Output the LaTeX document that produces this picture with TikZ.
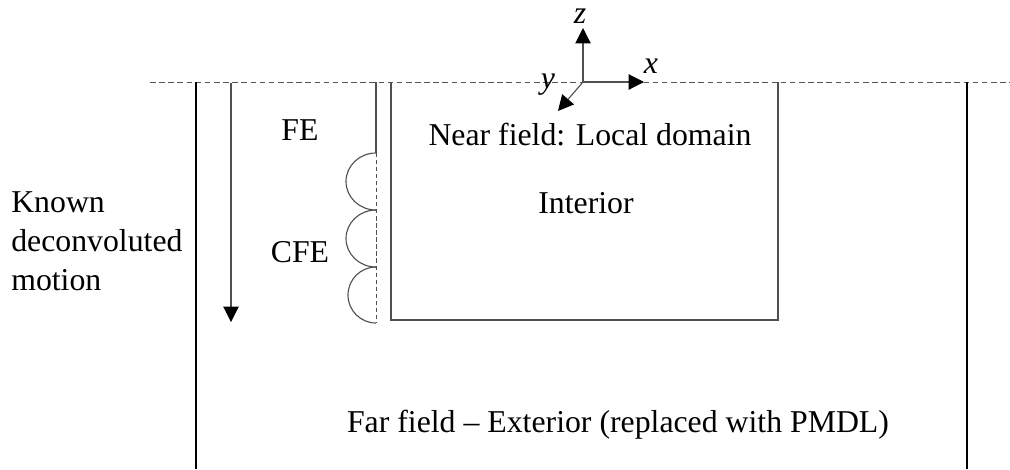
\documentclass[tikz,border=0pt]{standalone}
\usepackage{fontspec}
\setmainfont{Liberation Serif}
\usepackage{tikz}
\usetikzlibrary{arrows.meta}
\definecolor{linegray}{HTML}{505050}
\definecolor{dashgray}{HTML}{555555}

\begin{document}
\begin{tikzpicture}[x=0.025cm, y=-0.025cm,
  every node/.style={font=\fontsize{22.6}{27.5}\selectfont, inner sep=0pt},
  wall/.style={line width=1.5pt, black},
  thin line/.style={line width=0.8pt, linegray},
  tip/.style={-{Triangle[length=11pt, width=11pt, fill=black, color=black]}}]
\useasboundingbox (0,0) rectangle (1010,469);
% ground surface
\draw[dashgray, line width=0.7pt, dash pattern=on 4pt off 2.5pt] (150,82) -- (1010,82);
% far field boundaries
\draw[wall] (196,82) -- (196,469);
\draw[wall] (967,82) -- (967,469);
% input motion
\coordinate (mtop) at (231,83);
\coordinate (mbot) at (231,322);
\draw[thin line, tip] (mtop) -- (mbot);
% local domain
\draw[thin line] (391,82) -- (391,320) -- (778,320) -- (778,82);
% FE / CFE interface
\draw[thin line] (376,82) -- (376,153);
\draw[linegray, line width=0.7pt, dash pattern=on 3pt off 2pt] (376,153) -- (376,323);
\draw[thin line] (376,153) arc (90:270:0.75cm and 0.7125cm);
\draw[thin line] (376,210) arc (90:270:0.75cm and 0.7125cm);
\draw[thin line] (376,267) arc (90:270:0.7cm and 0.7cm);
% axes
\coordinate (o) at (583,82);
\coordinate (zend) at (583,28);
\coordinate (xend) at (644,82);
\coordinate (yend) at (558,111);
\draw[thin line, tip] (o) -- (zend);
\draw[thin line, tip] (o) -- (xend);
\draw[thin line, tip] (o) -- (yend);
\node[anchor=base] (zlab) at (580,23) {\textit{z}};
\node[anchor=base] (xlab) at (651,73) {\textit{x}};
\node[anchor=base] (ylab) at (548,88) {\textit{y}};
% labels
\node[anchor=base] (fe) at (300,140) {FE};
\node[anchor=base] (cfe) at (300,262) {CFE};
\node[anchor=base] (near) at (590,145) {Near field: Local domain};
\node[anchor=base] (interior) at (586,213) {Interior};
\node[anchor=base west, align=left] (known) at (11,290) {Known\\deconvoluted\\motion};
\node[anchor=base] (far) at (618,432) {Far field -- Exterior (replaced with PMDL)};
\end{tikzpicture}
\end{document}
